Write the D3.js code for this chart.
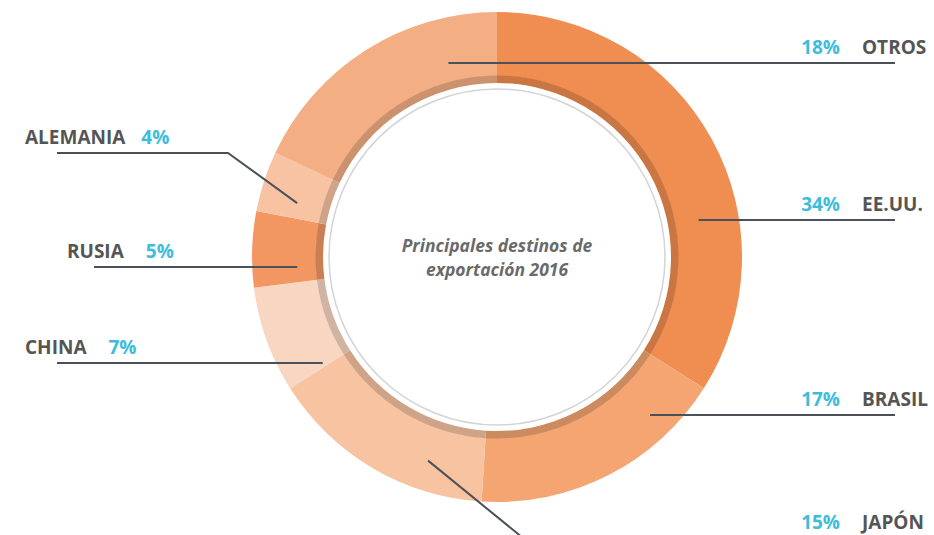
<!DOCTYPE html>
<html>
<head>
<meta charset="utf-8">
<script src="https://cdn.jsdelivr.net/npm/d3@7"></script>
<style>
  body { margin: 0; background: #fff; }
  svg { display: block; }
</style>
</head>
<body>
<div id="chart"></div>
<script>
// data, clockwise from 12 o'clock
const countries = ["EE.UU.", "BRASIL", "JAPÓN", "CHINA", "RUSIA", "ALEMANIA", "OTROS"];
const shares = [34, 17, 15, 7, 5, 4, 18];
const sliceColors = ["#F08D50", "#F4A572", "#F7C3A1", "#F9D6C2", "#F29762", "#F7C3A2", "#F4AE83"];
const titleLines = ["Principales destinos de", "exportación 2016"];

function createDonut() {
    const width = 934, height = 535;
    const cx = 497, cy = 257;
    const outerR = 245, ringInner = 181, bandInner = 174, guideR = 168;

    const svg = d3.select("#chart")
        .append("svg")
        .attr("width", width)
        .attr("height", height);

    const g = svg.append("g")
        .attr("transform", `translate(${cx},${cy})`);

    const data = countries.map((c, i) => ({ name: c, value: shares[i], color: sliceColors[i] }));

    const pie = d3.pie()
        .value(d => d.value)
        .sort(null);

    const arcs = pie(data);

    const arc = d3.arc().innerRadius(ringInner).outerRadius(outerR);
    const band = d3.arc().innerRadius(bandInner).outerRadius(ringInner + 0.5);

    // slices
    g.selectAll(".slice")
        .data(arcs)
        .enter()
        .append("path")
        .attr("class", "slice")
        .attr("fill", d => d.data.color)
        .attr("d", arc);

    // darker inner band
    g.selectAll(".band")
        .data(arcs)
        .enter()
        .append("path")
        .attr("class", "band")
        .attr("fill", d => d3.color(d.data.color).darker(0.5))
        .attr("d", band);

    // thin guide circle
    g.append("circle")
        .attr("r", guideR)
        .attr("fill", "none")
        .attr("stroke", "#d4d4d4")
        .attr("stroke-width", 1.5);

    // centre title
    g.selectAll(".title")
        .data(titleLines)
        .enter()
        .append("text")
        .attr("class", "title")
        .attr("x", 0)
        .attr("y", (d, i) => -5 + i * 24)
        .attr("text-anchor", "middle")
        .style("font-family", "'Open Sans', sans-serif")
        .style("font-style", "italic")
        .style("font-weight", 700)
        .style("font-size", "17.5px")
        .style("fill", "#6a6a6a")
        .text(d => d);

    // label layout (lineY = leader line y, r = where the leader hits the ring)
    const layout = {
        "OTROS":    { side: "right", lineY: 63,  r: 200 },
        "EE.UU.":   { side: "right", lineY: 220, r: 205 },
        "BRASIL":   { side: "right", lineY: 415, r: 220 },
        "JAPÓN":    { side: "right", lineY: 538, r: 215, angle: 198.7, elbowX: 523 },
        "CHINA":    { side: "left",  lineY: 363, r: 204, nameX: 25, lineX: 57 },
        "RUSIA":    { side: "left",  lineY: 267, r: 200, nameX: 67, lineX: 94 },
        "ALEMANIA": { side: "left",  lineY: 153, r: 207, nameX: 25, lineX: 57, angle: 285.1, elbowX: 228 }
    };

    const lineColor = "#4b5159";
    const nameColor = "#555555";
    const pctColor = "#3dbcdb";
    const rightLineEnd = 895, rightPctEnd = 840, rightNameX = 862;

    const labels = svg.append("g");

    data.forEach(d => {
        const L = layout[d.name];
        let pts;
        if (L.angle !== undefined) {
            const a = L.angle * Math.PI / 180;
            const ex = cx + L.r * Math.sin(a), ey = cy - L.r * Math.cos(a);
            const outX = L.side === "right" ? rightLineEnd : L.lineX;
            pts = [[ex, ey], [L.elbowX, L.lineY], [outX, L.lineY]];
        } else {
            const dy = L.lineY - cy;
            const dx = Math.sqrt(L.r * L.r - dy * dy);
            const ex = L.side === "right" ? cx + (d.name === "OTROS" ? -dx : dx) : cx - dx;
            const outX = L.side === "right" ? rightLineEnd : L.lineX;
            pts = [[ex, L.lineY], [outX, L.lineY]];
        }

        labels.append("path")
            .attr("d", d3.line()(pts))
            .attr("fill", "none")
            .attr("stroke", lineColor)
            .attr("stroke-width", 2);

        const baseY = L.lineY - 9;
        if (L.side === "right") {
            labels.append("text")
                .attr("x", rightPctEnd)
                .attr("y", baseY)
                .attr("text-anchor", "end")
                .style("font-family", "'Open Sans', sans-serif")
                .style("font-weight", 700)
                .style("font-size", "19px")
                .style("fill", pctColor)
                .text(d.value + "%");
            labels.append("text")
                .attr("x", rightNameX)
                .attr("y", baseY)
                .style("font-family", "'Open Sans', sans-serif")
                .style("font-weight", 700)
                .style("font-size", "19px")
                .style("fill", nameColor)
                .text(d.name);
        } else {
            const nameText = labels.append("text")
                .attr("x", L.nameX)
                .attr("y", baseY)
                .style("font-family", "'Open Sans', sans-serif")
                .style("font-weight", 700)
                .style("font-size", "19px")
                .style("fill", nameColor)
                .text(d.name);
            const w = nameText.node().getComputedTextLength();
            labels.append("text")
                .attr("x", L.nameX + w + (d.name === "ALEMANIA" ? 16 : 22))
                .attr("y", baseY)
                .style("font-family", "'Open Sans', sans-serif")
                .style("font-weight", 700)
                .style("font-size", "19px")
                .style("fill", pctColor)
                .text(d.value + "%");
        }
    });
}
createDonut();
</script>
</body>
</html>
